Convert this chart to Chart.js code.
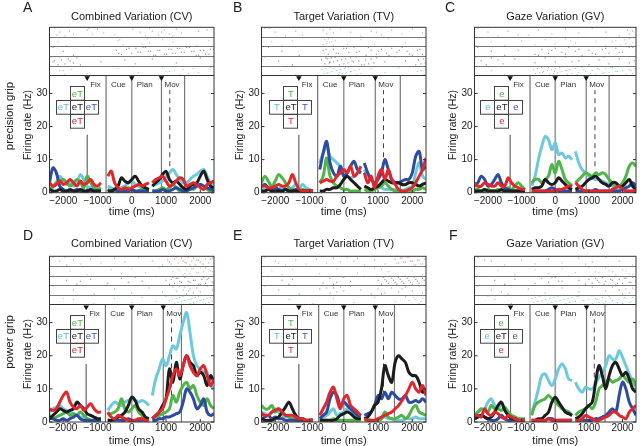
<!DOCTYPE html>
<html>
<head>
<meta charset="utf-8">
<script src="https://cdn.jsdelivr.net/npm/chart.js@4.4.1/dist/chart.umd.min.js"></script>
<style>
  html, body { margin: 0; padding: 0; background: #fff; }
  #fig { position: relative; width: 640px; height: 446px; overflow: hidden; }
  #fig canvas { position: absolute; }
</style>
</head>
<body>
<div id="fig"></div>
<script>
// ---- data -------------------------------------------------------------
// time axis (ms); null entries mark the breaks between alignment segments
const TIMES = [-2400, -2300, -2200, -2100, -2000, -1900, -1800, -1700, -1600, -1500, -1400, -1300, -1200, -1100, -1000, -900, -800,
  -700, -600, -500, -400, -300, -200, -100, 0, 100, 200, 300, 400, 500, 550,
  600, 700, 800, 900, 1000, 1100, 1200, 1300, 1400, 1500, 1600, 1700, 1800, 1900, 2000, 2100, 2200, 2300, 2400];
const XTICKS = [-2000, -1000, 0, 1000, 2000];
const YTICKS = [0, 10, 20, 30];

// firing rates (Hz), panel A (precision grip, CV)
const A_GREEN = [1, 2, 3, 3.5, 4, 3, 2, 3, 4, 3, 1.5, 5, 3, 1.5, 1, 1.5, null,
  1, 0.5, 0.5, 0.5, 1, 1, 1.5, 1, 0.5, 0.5, 1, 0.5, 0.5, null,
  0.5, 0.5, 1, 1.5, 1, 1.5, 2.5, 1.5, 0.5, 0.5, 1, 1.5, 1, 2, 2.5, 2, 1, 0.5, 1];
const A_CYAN = [1, 1.5, 3, 5, 3.5, 2.5, 3, 2, 3, 5.5, 4, 2, 1.5, 1, 0.5, 1, null,
  2, 1.5, 1, 1, 1.5, 2, 3, 3.5, 2.5, 2, 1.5, 1, 1, null,
  2, 2.5, 3, 3.5, 5, 6, 7, 5.5, 4, 3, 3, 4, 5, 5.5, 6.5, 7, 5, 3, 2.5];
const A_BLACK = [1, 0.5, 0.5, 1, 0.5, 0.5, 1, 0.5, 0.5, 1, 0.5, 0.5, 1, 0.5, 0.5, 0.5, null,
  0.5, 0.5, 1, 2, 4.5, 3.5, 3, 4, 5, 3.5, 2, 1.5, 1, null,
  2, 3, 4, 5.5, 6.5, 4, 3, 3.5, 2.5, 1.5, 1, 2, 2.5, 3, 5, 6.5, 4, 2, 1.5];
const A_BLUE = [3, 7.5, 6, 2, 1, 0.5, 0.5, 0.5, 1, 0.5, 0.5, 0.5, 0.5, 0.5, 0.5, 0.5, null,
  0.5, 0.5, 1, 0.5, 0.5, 0.5, 0.5, 1, 0.5, 0.5, 0.5, 0.5, 0.5, null,
  0.5, 0.5, 0.5, 1, 0.5, 0.5, 1, 1.5, 1, 0.5, 0.5, 1, 1.5, 2, 2.5, 2, 1.5, 1, 0.5];
const A_RED = [3, 2, 2.5, 3.5, 2.5, 3, 4, 3, 2, 3.5, 2.5, 3, 4, 2.5, 2, 3, null,
  5, 6.5, 3, 1.5, 1, 1.5, 1, 1.5, 2, 2.5, 2, 2.5, 3, null,
  3, 4, 4.5, 5, 3.5, 2, 2.5, 3.5, 4.5, 4, 2, 2.5, 3, 2.5, 1.5, 1, 2.5, 3, 3.5];

// panel B (precision grip, TV)
const B_GREEN = [3, 5, 3.5, 2, 3.5, 5.5, 4.5, 3, 1.5, 1, 0.5, 0.5, 1, 0.5, 0.5, 0.5, null,
  3, 5, 10.5, 5, 3, 2, 1.5, 1, 1, 0.5, 0.5, 0.5, 0.5, null,
  1, 0.5, 0.5, 1, 1.5, 2, 3, 2, 1, 0.5, 0.5, 0.5, 0.5, 0.5, 0.5, 1, 1, 1.5, 1];
const B_CYAN = [1.5, 1, 1, 1.5, 1, 1, 1.5, 1, 1, 1.5, 2.5, 1.5, 2.5, 1.5, 1, 0.5, null,
  9, 12, 14, 11, 10, 9, 8, 7, 5, 4.5, 5, 6, 6, null,
  7, 5, 4, 3, 2, 1.5, 1, 1, 1, 1, 0.5, 0.5, 1, 1.5, 2, 6, 9, 5, 4];
const B_BLACK = [0.5, 0.5, 1, 0.5, 0.5, 0.5, 0.5, 1, 0.5, 0.5, 0.5, 0.5, 0.5, 0.5, 0.5, 0.5, null,
  0.5, 0.5, 1, 1, 1.5, 1.5, 2.5, 4, 5, 4, 3, 2, 1, null,
  2, 1.5, 1, 1.5, 2, 3, 4, 3.5, 3, 3, 3, 2.5, 2.5, 3, 3, 2.5, 2, 2.5, 3];
const B_BLUE = [2, 2.5, 1.5, 1, 1.5, 1, 0.5, 1, 0.5, 0.5, 1, 0.5, 0.5, 0.5, 0.5, 0.5, null,
  7, 12, 15.5, 9, 6, 5, 8, 5, 6, 8, 9.5, 7, 6, null,
  9, 6, 4, 3, 4, 6, 10, 7, 4, 3, 3, 3.5, 4, 4, 6, 11, 12.5, 7, 8];
const B_RED = [2, 2, 1.5, 1.5, 2, 2.5, 2, 2, 3, 5.5, 3, 1, 0.5, 0.5, 0.5, 0.5, null,
  3, 3.5, 4, 3.5, 3.5, 5, 6, 7, 6, 8, 5, 6, 8, null,
  6, 3, 5, 1.5, 5, 7, 4, 7, 4, 2.5, 1, 0.5, 0.5, 1, 1.5, 3, 5, 7, 10.5];

// panel C (precision grip, GV)
const C_GREEN = [1, 1, 0.5, 0.5, 1, 0.5, 0.5, 1, 0.5, 1, 1.5, 1, 2, 3, 2, 1, null,
  3, 4, 4, 3, 4, 5, 8.5, 6, 9.5, 7, 4, 3, 2, null,
  3, 4, 5, 6, 5.5, 5, 6, 5.5, 6, 5.5, 4, 3, 2, 2, 3, 5, 8, 9, 8];
const C_CYAN = [1, 1, 0.5, 0.5, 0.5, 0.5, 0.5, 0.5, 0.5, 0.5, 0.5, 0.5, 0.5, 0.5, 0.5, 0.5, null,
  2, 5, 10, 14, 17, 16, 13, 15, 11.5, 12, 10.5, 11, 10, null,
  12.5, 9, 7, 6, 5, 4.5, 4, 4, 3.5, 3, 2.5, 2, 1.5, 1, 1, 1, 0.5, 0.5, 0.5];
const C_BLACK = [0.5, 0.5, 0.5, 1, 0.5, 0.5, 0.5, 0.5, 1, 0.5, 0.5, 0.5, 0.5, 0.5, 0.5, 0.5, null,
  1, 1.5, 1.5, 2, 4, 3, 2.5, 3, 4.5, 3.5, 2.5, 1.5, 1, null,
  1, 1.5, 2, 3, 4, 4.5, 5, 4, 3, 2.5, 2, 3, 3, 2, 2, 3, 4, 2, 1];
const C_BLUE = [2, 3, 5, 4, 2, 2.5, 4, 5.5, 3, 1.5, 1, 0.5, 0.5, 0.5, 0.5, 0.5, null,
  0.5, 0.5, 0.5, 0.5, 0.5, 1, 1.5, 1, 0.5, 0.5, 0.5, 0.5, 0.5, null,
  0.5, 0.5, 0.5, 0.5, 0.5, 0.5, 1, 0.5, 0.5, 0.5, 0.5, 0.5, 0.5, 0.5, 1, 1.5, 2, 3, 2];
const C_RED = [3, 2, 2, 3, 2.5, 2, 2, 3, 2, 2, 4.5, 3, 2, 1.5, 1, 1, null,
  0.5, 0.5, 0.5, 0.5, 0.5, 0.5, 0.5, 0.5, 1, 1, 1.5, 2, 2, null,
  3, 2, 1, 0.5, 0.5, 0.5, 0.5, 0.5, 0.5, 0.5, 0.5, 1, 1.5, 2, 1, 0.5, 0.5, 0.5, 0.5];

// panel D (power grip, CV)
const D_GREEN = [2, 1, 1.5, 2, 2.5, 3, 2, 2.5, 2, 3, 2, 1, 0.5, 0.5, 0.5, 0.5, null,
  2, 2.5, 3, 4, 7, 4, 3, 4, 5, 3, 2, 1, 1, null,
  1, 1.5, 2, 2.5, 3, 4, 8, 6, 9, 11, 12, 10, 11, 8, 6, 5, 7, 5, 4];
const D_CYAN = [3, 4, 4.5, 5, 4, 3.5, 3, 2.5, 2, 1.5, 1, 1, 0.5, 0.5, 0.5, 0.5, null,
  3.5, 5, 6, 5.5, 5, 6, 6.5, 7, 6.5, 6, 6.5, 6, 5, null,
  8, 13, 16, 19, 17, 20, 23, 22, 26, 30, 33, 27, 20, 17, 16, 15, 15, 11, 10];
const D_BLACK = [1, 2, 3, 4, 3.5, 3, 3.5, 4, 6, 5, 4, 2.5, 2, 1.5, 1, 1, null,
  0.5, 0.5, 1, 1.5, 2, 3, 5, 7.5, 6.5, 4, 3, 1.5, 1, null,
  1, 2, 3, 5, 7, 16, 12, 18, 13, 17, 20, 18, 17, 14, 15, 14, 11, 14, 12];
const D_BLUE = [1, 1, 0.5, 0.5, 1, 0.5, 1, 1.5, 2, 1, 0.5, 0.5, 0.5, 0.5, 0.5, 0.5, null,
  0.5, 0.5, 0.5, 0.5, 0.5, 0.5, 1, 0.5, 0.5, 0.5, 0.5, 0.5, 0.5, null,
  0.5, 0.5, 1, 1, 1.5, 1.5, 2, 2.5, 3, 6, 10, 9, 7, 4, 5, 7, 3, 2, 2.5];
const D_RED = [4, 3.5, 4, 6, 8, 9, 6, 4.5, 4, 5, 3.5, 4.5, 5.5, 4, 3, 3, null,
  3, 1.5, 1, 2, 1.5, 1, 0.5, 0.5, 0.5, 1, 1, 0.5, 0.5, null,
  1, 2, 3, 4, 7, 10, 14, 16, 14, 17, 20, 17, 15, 14, 16, 17, 14, 11, 13];

// panel E (power grip, TV)
const E_GREEN = [5, 4, 4, 5, 3, 4, 3, 2, 1.5, 1, 0.5, 0.5, 0.5, 0.5, 0.5, 0.5, null,
  0.5, 0.5, 0.5, 0.5, 1, 0.5, 0.5, 0.5, 0.5, 0.5, 0.5, 0.5, 0.5, null,
  0.5, 0.5, 0.5, 0.5, 0.5, 1, 3, 1.5, 1, 1, 1.5, 2, 1, 2, 4, 5, 3, 2.5, 2];
const E_CYAN = [3, 2.5, 2, 3, 4, 3, 2, 1.5, 1.5, 1, 1, 0.5, 0.5, 0.5, 0.5, 0.5, null,
  1, 1.5, 2, 3, 4, 2, 2.5, 3, 4, 3, 2, 1.5, 1, null,
  1, 1, 0.5, 0.5, 0.5, 1, 1.5, 1, 1, 0.5, 0.5, 0.5, 1, 1, 1, 1.5, 1, 1, 1];
const E_BLACK = [1, 0.5, 0.5, 0.5, 1, 1.5, 3, 4.5, 6, 4, 2, 1, 1, 0.5, 0.5, 0.5, null,
  0.5, 0.5, 0.5, 0.5, 0.5, 1, 2, 2.5, 3, 2.5, 1.5, 1, 1, null,
  1, 1.5, 3, 5, 6, 10, 17, 14, 12, 18, 20, 19, 18, 15, 14, 14, 12, 9, 10];
const E_BLUE = [1, 1.5, 2, 1, 1.5, 1, 1, 0.5, 0.5, 0.5, 0.5, 0.5, 0.5, 0.5, 0.5, 0.5, null,
  1, 2, 3, 7, 9, 8, 5, 6, 5, 4, 3, 2, 2, null,
  2, 2.5, 3, 5, 8, 7, 9, 7, 9, 8, 7, 7, 8, 6, 6, 6.5, 6, 7, 6];
const E_RED = [2.5, 2, 2, 3, 3.5, 4, 3, 2, 2, 2, 1.5, 1, 1, 0.5, 0.5, 0.5, null,
  2, 4, 6, 9, 10.5, 7, 4, 7, 8, 5, 4, 3, 2, null,
  1, 0.5, 0.5, 0.5, 1, 1.5, 2, 2.5, 3, 4, 5, 6.5, 8, 10, 12, 10, 9, 11, 8];

// panel F (power grip, GV)
const F_GREEN = [2, 3, 4, 3.5, 3, 5, 4, 4, 3.5, 4.5, 3, 2, 1.5, 1, 1, 1, null,
  2, 5, 6, 6.5, 7, 8, 7, 6, 5, 4, 3.5, 3, 2, null,
  2, 3, 3.5, 4, 5, 4, 6, 10, 11, 12, 13, 12, 12.5, 13, 14, 13, 12, 13, 11];
const F_CYAN = [2, 3, 3.5, 4, 6, 7, 5, 4, 5.5, 4, 3, 2, 1.5, 1, 0.5, 0.5, null,
  3, 6, 10, 14, 14.5, 12.5, 11, 13, 16, 17.5, 16, 13, 12.5, null,
  12, 10, 9, 10.5, 10, 10, 11.5, 13.5, 15, 17, 20, 19, 19, 21.5, 19.5, 17, 14.5, 12, 10.5];
const F_BLACK = [1, 1.5, 2, 1.5, 1, 1.5, 3, 5, 6, 3.5, 2, 1, 1, 0.5, 0.5, 0.5, null,
  0.5, 0.5, 1, 1, 2, 3, 6, 7.5, 6, 4.5, 3, 2.5, 2, null,
  1, 1.5, 2.5, 4, 5, 6, 12, 17, 14, 10, 14, 17, 18, 16, 14, 15, 13, 10, 9];
const F_BLUE = [1, 1.5, 2, 1.5, 1, 0.5, 0.5, 1, 2, 1, 0.5, 0.5, 0.5, 0.5, 0.5, 0.5, null,
  0.5, 0.5, 0.5, 0.5, 0.5, 1, 1, 0.5, 0.5, 0.5, 0.5, 0.5, 0.5, null,
  0.5, 0.5, 0.5, 0.5, 0.5, 0.5, 1, 1, 1.5, 2, 3, 4, 3, 8, 12, 10, 6, 4, 2];
const F_RED = [2, 2, 1.5, 4, 2.5, 2, 3, 2.5, 1.5, 1, 2, 1.5, 1, 0.5, 0.5, 0.5, null,
  0.5, 0.5, 0.5, 0.5, 0.5, 1, 0.5, 0.5, 0.5, 0.5, 0.5, 0.5, 0.5, null,
  0.5, 0.5, 1, 2, 1.5, 1, 0.5, 0.5, 1, 1.5, 2, 3, 3, 2, 1.5, 1, 3, 4, 5];

// spike times (ms) per raster band, top to bottom: red, green, black, blue, cyan
const RASTER_A = [
  [-2250, -2100, -1950, -1820, -2180, -1300, -1150, -1000, -820, -1250, 250, 400, 600, 780, 950, 1100, 1300, 1450, 520, 880, 1200, 1950, -500, 2200, -1700, 30],
  [-2300, -2150, -1900, -400, -250, -350, 300, 450, 520, 700, 1200, 1900, 2250, -1100, 900],
  [-2300, -2000, -1700, -450, -300, -150, 0, 120, 260, 400, 550, 700, 820, 950, 1080, 1200, 1330, 1450, 1600, 1750, 1880, 2000, 2150, 2300, -380, -80, 180, 330, 480, 640, 760, 1020, 1150, 1280, 1400, 1530, 1680, 1820, 1950, 2100, 2250, 2380],
  [-2350, -2250, -2150, -2050, -1950, -1850, -1700, -1600, -2300, -2100, -1800, -1500, -200, 100, 600, 1300, 2000, -900],
  [-2250, -2100, -1950, -1750, -1300, -400, 200, 900, 1000, 1150, 1250, 1400, 1500, 1650, 1800, 1950, 2300, 1100, 1350, -2000]
];
const RASTER_B = [
  [-2300, -2000, -1700, -1400, -1200, -600, -500, -400, -300, -100, 200, 500, 800, 1100, 1400, 1700, 2000, 2300, -2150, 950],
  [-2350, -2100, -1800, -1500, -600, -550, -500, -450, -420, -380, -350, -300, -250, 100, 500, 900, 1300, 1800, 2200, -480],
  [-2200, -1800, -1300, -600, -450, -300, -150, 0, 150, 300, 450, 650, 800, 950, 1100, 1250, 1400, 1550, 1700, 1850, 2000, 2150, 2300, -520, -220, 80, 380, 720, 1020, 1320, 1620, 1920, 2220],
  [-2300, -1900, -1500, -650, -550, -480, -420, -360, -300, -240, -180, -120, -60, 0, 60, 120, 200, 280, 360, 440, 520, 640, 720, 800, 880, 960, 1200, 1500, 1800, 2100, 2180, 2250, 2320, 2380, -520, -400, -270, 240, 600],
  [-2250, -1850, -1400, -650, -580, -520, -460, -400, -340, -280, -220, -160, -100, -40, 20, 80, 140, 200, 260, 320, 380, 440, 500, 800, 1200, 1600, 2150, 2220, 2280, 2340, 2390, -490, -310, -130, 50, 230, 410, 2250]
];
const RASTER_C = [
  [-2300, -2000, -1700, -1400, -1100, -500, -100, 300, 700, 1100, 1500, 1900, 2300, -800, 2150, 2200],
  [-2200, -1900, -1500, -1000, -600, -300, 0, 300, 600, 900, 1200, 1500, 1800, 1950, 2050, 2100, 2200, 2300, 2380, 1700, -2350, 450],
  [-2300, -1900, -1500, -1100, -600, -400, -200, 0, 200, 400, 600, 800, 1000, 1200, 1400, 1600, 1800, 2000, 2200, 2400, -500, -100, 300, 700, 1100, 1500, 1900, 2300],
  [-2350, -2200, -2050, -1700, -1550, -1200, -600, -300, 0, 300, 700, 1000, 1300, 1600, 1900, 2200, -1900, 500, 1450, 2350],
  [-2300, -1900, -1500, -650, -590, -530, -470, -410, -350, -290, -230, -170, -110, -50, 10, 70, 130, 190, 250, 310, 370, 430, 490, 600, 700, 800, 900, 1000, 1100, 1200, 1300, 1400, 1500, 1600, 1700, 1800, 1900, 2000, 2100, 2200, 2300, 2380, -380, -200, -20, 160, 340, 650, 850, 1050, 1250, 1450, 1650, 1850, 2050, 2250]
];
const RASTER_D = [
  [-2300, -2100, -1900, -1700, -1500, -1200, -900, -500, -200, 200, 600, 900, 1050, 1150, 1250, 1350, 1450, 1550, 1650, 1750, 1850, 1950, 2050, 2150, 2250, 2350, 1100, 1300, 1500, 1700, 1900, 2100, 2300, 1600, 1800, 2000, -1950],
  [-2200, -1800, -1300, -600, -300, 0, 400, 800, 1200, 1300, 1400, 1500, 1600, 1700, 1800, 1900, 2000, 2100, 2200, 2300, 2400, 1350, 1550, 1750, 1950, 2150, 2350, -100],
  [-2300, -1900, -1600, -1200, -700, -300, -100, 100, 300, 700, 1000, 1100, 1150, 1250, 1350, 1450, 1550, 1650, 1750, 1850, 1950, 2050, 2150, 2250, 2350, 1200, 1400, 1600, 1800, 2000, 2200, 2400, 1300, 1700, 2100, -1500],
  [-2300, -1700, -1100, -500, 0, 500, 900, 1200, 1300, 1400, 1500, 1600, 1700, 1800, 1900, 2000, 1550, 1650, 2200, 2350],
  [-2200, -1700, -1100, -500, 0, 300, 700, 1000, 1100, 1150, 1200, 1250, 1300, 1350, 1400, 1450, 1500, 1550, 1600, 1650, 1700, 1750, 1800, 1850, 1900, 1950, 2000, 2050, 2100, 2150, 2200, 2250, 2300, 2350, 2400, 1520, 1620, 1720, 1820, -2000]
];
const RASTER_E = [
  [-2300, -2000, -1700, -1400, -1100, -800, -500, -300, -100, 100, 300, 600, 900, 1200, 1500, 1600, 1700, 1800, 1900, 2000, 2100, 2200, 2300, 2400, 1550, 1650, 1750, 1850, 1950, 2050, 2150, 2250, 2350, -1900, 400],
  [-2300, -2100, -1800, -1500, -700, -200, 400, 900, 1300, 1700, 2000, 2300, 1100],
  [-2200, -1800, -1600, -1500, -600, -400, -200, 0, 200, 600, 1000, 1100, 1200, 1300, 1400, 1500, 1600, 1700, 1800, 1900, 2000, 2100, 2200, 2300, 2400, 1150, 1250, 1350, 1450, 1550, 1650, 1750, 1850, 1950, 2050, 2150, 2250, 2350, -300],
  [-2300, -1900, -1300, -700, -400, -300, -200, -100, 0, 200, 500, 800, 1000, 1200, 1400, 1600, 1800, 2000, 2200, 2400, 1100, 1700, 2300, -500],
  [-2200, -1600, -900, -300, 300, 900, 1500, 1800, 1900, 2000, 2100, 2200, 2300, 2400, 2050, 2250]
];
const RASTER_F = [
  [-2300, -1900, -1500, -1000, -600, -200, 200, 700, 1100, 1500, 1900, 2300, -2100, 900],
  [-2200, -1700, -1200, -600, -200, 200, 600, 1000, 1200, 1400, 1600, 1800, 2000, 2200, 2400, 1300, 1500, 1700, 1900, 2100, 2300, -2400],
  [-2300, -1800, -1500, -1200, -600, -400, -200, 0, 200, 400, 700, 900, 1000, 1100, 1200, 1300, 1400, 1500, 1600, 1700, 1800, 1900, 2000, 2100, 2200, 2300, 2400, 1050, 1250, 1450, 1650, 1850, 2050, 2250, -100, 100],
  [-2300, -1900, -1400, -800, -300, 200, 700, 1100, 1500, 1800, 1900, 2000, 2100, 2200, 2300, -1600, 1700],
  [-2300, -1800, -1300, -700, -640, -580, -520, -460, -400, -340, -280, -220, -160, -100, -40, 20, 80, 140, 200, 260, 320, 380, 440, 500, 600, 700, 800, 900, 1000, 1100, 1200, 1300, 1400, 1500, 1600, 1700, 1800, 1900, 2000, 2100, 2200, 2300, 2400, 650, 850, 1050, 1250, 1450, 1650, 1850, 2050, 2250, -2000]
];

// event times per panel (ms): fix, cue-break, cue, mov-break, mov (dashed), end
const EVENTS_A = [-1300, -750, 0, 867, 1110, 1543];
const EVENTS_B = [-1310, -760, 0, 920, 1160, 1650];
const EVENTS_C = [-1340, -750, 0, 920, 1180, 1600];
const EVENTS_D = [-1330, -770, 0, 920, 1160, 1450];
const EVENTS_E = [-1310, -730, 0, 920, 1160, 1480];
const EVENTS_F = [-1330, -750, 0, 930, 1160, 1480];

const TITLES = ['Combined Variation (CV)', 'Target Variation (TV)', 'Gaze Variation (GV)',
  'Combined Variation (CV)', 'Target Variation (TV)', 'Gaze Variation (GV)'];
const LETTERS = ['A', 'B', 'C', 'D', 'E', 'F'];
// legend cross texts: top, left, centre, right, bottom
const CROSS_CV = ['eT', 'eT', 'eT', 'eT', 'eT'];
const CROSS_TV = ['T', 'T', 'eT', 'T', 'T'];
const CROSS_GV = ['e', 'e', 'eT', 'e', 'e'];
const LEGEND_X = [-1600, -1555, -1600, -1600, -1555, -1620];

// ---- styling / layout ---------------------------------------------------
const FONT = "'Liberation Sans', Arial, Helvetica, sans-serif";
Chart.defaults.font.family = FONT;

const RATES = [
  [A_GREEN, A_CYAN, A_BLACK, A_BLUE, A_RED],
  [B_GREEN, B_CYAN, B_BLACK, B_BLUE, B_RED],
  [C_GREEN, C_CYAN, C_BLACK, C_BLUE, C_RED],
  [D_GREEN, D_CYAN, D_BLACK, D_BLUE, D_RED],
  [E_GREEN, E_CYAN, E_BLACK, E_BLUE, E_RED],
  [F_GREEN, F_CYAN, F_BLACK, F_BLUE, F_RED]
];
const RASTERS = [RASTER_A, RASTER_B, RASTER_C, RASTER_D, RASTER_E, RASTER_F];
const EVENTS = [EVENTS_A, EVENTS_B, EVENTS_C, EVENTS_D, EVENTS_E, EVENTS_F];
const CROSSES = [CROSS_CV, CROSS_TV, CROSS_GV, CROSS_CV, CROSS_TV, CROSS_GV];

const LINE_COLORS = ['#4fb548', '#6dcadc', '#1c1c1c', '#2d4b9f', '#e2272c'];   // green, cyan, black, blue, red
const DRAW_ORDER = [4, 5, 2, 3, 1];                                           // lower = on top
const RASTER_COLORS = ['rgba(205,90,110,0.7)', 'rgba(110,175,110,0.7)', 'rgba(60,60,60,0.7)', 'rgba(70,95,160,0.7)', 'rgba(110,195,215,0.8)'];
// cross cells: top, left, centre, right, bottom
const CROSS_POS = [[0, -1], [-1, 0], [0, 0], [1, 0], [0, 1]];
const CROSS_COLORS = ['#58b04a', '#5bbfd6', '#222', '#3b5aa6', '#d52838'];

const EVENT_STYLE = [
  { y0: 0, y1: 17.5, color: '#666', w: 1.2 },
  { y0: 0, y1: 35.5, color: '#555', w: 1 },
  { y0: 0, y1: 35.5, color: '#999', w: 1.6 },
  { y0: 0, y1: 35.5, color: '#777', w: 1.2 },
  { y0: 8, y1: 31, color: '#444', w: 1, dash: [5, 4] },
  { y0: 0, y1: 35.5, color: '#777', w: 1.2 }
];
const RASTER_BASE = 35.5, ROW_H = 2.9, YMAX = 50;

const COLS = [
  { left: 0, w: 218, plotL: 49.5, plotR: 214.5 },
  { left: 218, w: 212, plotL: 261.5, plotR: 426.5 },
  { left: 430, w: 210, plotL: 474.5, plotR: 638.5 }
];
const ROWS = [
  { top: 0, h: 223, plotT: 27.3, plotB: 192.7, titleY: 16.7, xlabY: 212, tickPad: 2.5, letterY: 12 },
  { top: 223, h: 223, plotT: 33.3, plotB: 199, titleY: 20.7, xlabY: 217.5, tickPad: 0, letterY: 16.7 }
];
const LETTER_X = [23, 15, 15, 23, 15, 19];
const SIDE_LABELS = ['precision grip', null, null, 'power grip', null, null];

function hline(ctx, x1, x2, y) {
  ctx.beginPath(); ctx.moveTo(x1, y); ctx.lineTo(x2, y); ctx.stroke();
}
function vline(ctx, x, y1, y2) {
  ctx.beginPath(); ctx.moveTo(x, y1); ctx.lineTo(x, y2); ctx.stroke();
}

const decor = {
  id: 'decor',
  afterDatasetsDraw(chart) {
    const o = chart.options.plugins.decor;
    const ctx = chart.ctx, a = chart.chartArea;
    const x = chart.scales.x, y = chart.scales.y;
    ctx.save();

    // raster band separators and frame
    ctx.lineWidth = 1;
    ctx.strokeStyle = '#777';
    for (let k = 1; k < 5; k++) hline(ctx, a.left, a.right, Math.round(y.getPixelForValue(RASTER_BASE + k * ROW_H)) + 0.5);
    ctx.strokeStyle = '#333';
    hline(ctx, a.left, a.right, Math.round(y.getPixelForValue(RASTER_BASE)) + 0.5);
    ctx.strokeRect(a.left, a.top, a.right - a.left, a.bottom - a.top);

    // inward tick marks
    ctx.strokeStyle = '#333';
    XTICKS.forEach(v => { const px = x.getPixelForValue(v); vline(ctx, px, a.bottom, a.bottom - 3); });
    YTICKS.forEach(v => {
      const py = y.getPixelForValue(v);
      hline(ctx, a.left, a.left + 3, py);
      hline(ctx, a.right - 3, a.right, py);
    });

    // event labels
    const ev = o.events;
    ctx.fillStyle = '#333';
    ctx.font = '8px ' + FONT;
    ctx.textAlign = 'left';
    ctx.textBaseline = 'middle';
    const labY = y.getPixelForValue(RASTER_BASE) + 9.5;
    [['Fix', 0, 3], ['Cue', 1, 5], ['Plan', 2, 5], ['Mov', 3, 3]].forEach(([t, i, dx]) => {
      ctx.fillText(t, x.getPixelForValue(ev[i]) + dx, labY);
    });

    // legend cross
    const cx = x.getPixelForValue(o.legendX), cy = y.getPixelForValue(26);
    const cw = 14, ch = 13.7;
    ctx.strokeStyle = '#444';
    ctx.lineWidth = 1;
    ctx.font = '9.5px ' + FONT;
    ctx.textAlign = 'center';
    CROSS_POS.forEach(([dx, dy], i) => {
      const bx = cx + dx * cw, by = cy + dy * ch;
      ctx.strokeRect(Math.round(bx - cw / 2) + 0.5, Math.round(by - ch / 2) + 0.5, cw, ch);
      ctx.fillStyle = CROSS_COLORS[i];
      ctx.fillText(o.cross[i], bx + 0.5, by + 1);
    });

    // titles and labels
    ctx.fillStyle = '#222';
    ctx.font = '11px ' + FONT;
    ctx.textAlign = 'center';
    ctx.fillText(o.title, (a.left + a.right) / 2, o.titleY);
    ctx.fillText('time (ms)', (a.left + a.right) / 2, o.xlabY);

    ctx.save();
    ctx.translate(a.left - 21.5, y.getPixelForValue(20.5));
    ctx.rotate(-Math.PI / 2);
    ctx.font = '10.5px ' + FONT;
    ctx.fillText('Firing rate (Hz)', 0, 0);
    ctx.restore();

    if (o.side) {
      ctx.save();
      ctx.translate(9.5, o.sideY);
      ctx.rotate(-Math.PI / 2);
      ctx.font = '11.5px ' + FONT;
      ctx.fillText(o.side, 0, 0);
      ctx.restore();
    }

    ctx.font = '14px ' + FONT;
    ctx.textAlign = 'left';
    ctx.textBaseline = 'alphabetic';
    ctx.fillText(o.letter, o.letterX, o.letterY);
    ctx.restore();
  }
};

function buildDatasets(p) {
  const ds = [];
  const ev = EVENTS[p];
  EVENT_STYLE.forEach((st, i) => ds.push({
    type: 'line',
    data: [{ x: ev[i], y: st.y0 }, { x: ev[i], y: st.y1 }],
    borderColor: st.color, borderWidth: st.w, borderDash: st.dash || [],
    pointRadius: 0, order: 60
  }));
  ds.push({
    type: 'scatter',
    data: [0, 2, 3].map(i => ({ x: ev[i], y: 34.7 })),
    pointStyle: 'triangle', rotation: 180, pointRadius: 3.2,
    backgroundColor: '#111', borderWidth: 0, order: 0
  });
  // spikes are spread over nine trial lines inside each band
  RASTERS[p].forEach((times, r) => ds.push({
    type: 'scatter',
    data: times.map((t, k) => ({ x: t, y: YMAX - r * ROW_H - 0.25 - ((k * 4) % 9) * 0.3 })),
    pointStyle: 'rect', pointRadius: 0.75,
    backgroundColor: RASTER_COLORS[r], borderWidth: 0, order: 50
  }));
  RATES[p].forEach((vals, s) => ds.push({
    type: 'line',
    data: TIMES.map((t, i) => ({ x: t, y: vals[i] })),
    borderColor: LINE_COLORS[s], borderWidth: 3,
    pointRadius: 0, tension: 0.35, spanGaps: false, fill: false,
    order: DRAW_ORDER[s]
  }));
  return ds;
}

const fig = document.getElementById('fig');
LETTERS.forEach((letter, p) => {
  const col = COLS[p % 3], row = ROWS[Math.floor(p / 3)];
  const cv = document.createElement('canvas');
  cv.width = col.w; cv.height = row.h;
  cv.style.left = col.left + 'px'; cv.style.top = row.top + 'px';
  cv.style.width = col.w + 'px'; cv.style.height = row.h + 'px';
  fig.appendChild(cv);

  new Chart(cv, {
    type: 'line',
    data: { datasets: buildDatasets(p) },
    plugins: [decor],
    options: {
      responsive: false,
      animation: false,
      events: [],
      layout: { padding: { left: 0, top: row.plotT, right: col.left + col.w - col.plotR, bottom: 0 } },
      scales: {
        x: {
          type: 'linear', min: -2400, max: 2400,
          border: { display: false },
          grid: { display: false, drawTicks: false },
          ticks: {
            font: { size: 10 }, color: '#222', padding: row.tickPad, maxRotation: 0, autoSkip: false,
            callback: v => (v < 0 ? '\u2212' + Math.abs(v) : String(v))
          },
          afterBuildTicks: s => { s.ticks = XTICKS.map(v => ({ value: v })); },
          afterFit: s => { s.height = row.h - row.plotB; }
        },
        y: {
          type: 'linear', min: 0, max: YMAX,
          border: { display: false },
          grid: { display: false, drawTicks: false },
          ticks: { font: { size: 10 }, color: '#222', padding: 2 },
          afterBuildTicks: s => { s.ticks = YTICKS.map(v => ({ value: v })); },
          afterFit: s => { s.width = col.plotL - col.left; }
        }
      },
      plugins: {
        legend: { display: false },
        tooltip: { enabled: false },
        decor: {
          events: EVENTS[p], legendX: LEGEND_X[p], cross: CROSSES[p],
          title: TITLES[p], titleY: row.titleY, xlabY: row.xlabY,
          letter: letter, letterX: LETTER_X[p], letterY: row.letterY,
          side: SIDE_LABELS[p], sideY: p < 3 ? 116 : 119
        }
      }
    }
  });
});
</script>
</body>
</html>
